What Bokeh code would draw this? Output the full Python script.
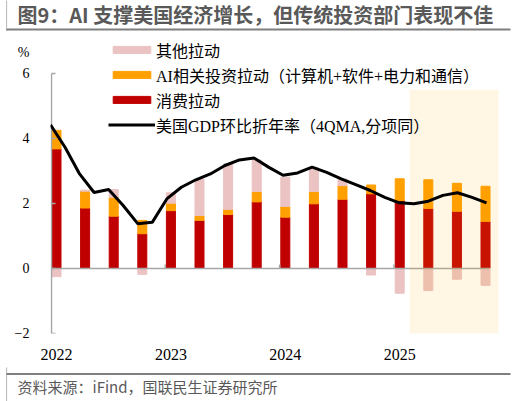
import numpy as np
from bokeh.plotting import figure
from bokeh.layouts import column
from bokeh.models import (ColumnDataSource, Range1d, FixedTicker, Legend, LegendItem, Label)
from bokeh.embed import file_html
from bokeh.resources import INLINE

# quarterly contributions, pct points
quarters = ["2022Q1", "2022Q2", "2022Q3", "2022Q4",
            "2023Q1", "2023Q2", "2023Q3", "2023Q4",
            "2024Q1", "2024Q2", "2024Q3", "2024Q4",
            "2025Q1", "2025Q2", "2025Q3", "2025Q4"]
consumption = [3.68, 1.86, 1.61, 1.07, 1.78, 1.48, 1.66, 2.05,
               1.58, 1.99, 2.13, 2.30, 2.09, 1.85, 1.76, 1.45]
ai_invest = [0.57, 0.52, 0.58, 0.41, 0.23, 0.15, 0.16, 0.32,
             0.33, 0.38, 0.42, 0.27, 0.67, 0.88, 0.86, 1.08]
other = [-0.25, 0.03, 0.24, -0.18, 0.32, 1.12, 1.40, 0.97,
         0.90, 0.73, 0.20, -0.20, -0.76, -0.68, -0.33, -0.52]
# GDP 4QMA curve, every half quarter
gdp = [4.42, 3.73, 2.91, 2.34, 2.43, 1.94, 1.38, 1.42, 2.14, 2.50, 2.73,
       2.91, 3.17, 3.34, 3.40, 3.12, 2.87, 2.94, 3.12, 2.96, 2.76,
       2.58, 2.40, 2.19, 2.02, 1.99, 2.07, 2.25, 2.33, 2.19, 2.02]
years = ["2022", "2023", "2024", "2025"]
y_ticks = [-2, 0, 2, 4, 6]

SERIF = "Liberation Serif, Noto Sans CJK SC"
SANS = "Noto Sans CJK SC"
RED, ORANGE, PINK = "#C00000", "#FF9F00", "#EBC3C3"
GREY = "#A6A6A6"
RULE = "#7F7F7F"


def strip(height, rule_y):
    # full-width strip for the title / source lines, coords in strip px
    f = figure(width=516, height=height, output_backend="svg", toolbar_location=None,
               x_range=Range1d(0, 516), y_range=Range1d(0, height),
               x_axis_type=None, y_axis_type=None, min_border=0, title=None)
    f.outline_line_color = None
    f.frame_align = False
    f.segment(x0=6, x1=510, y0=rule_y, y1=rule_y, line_color=RULE, line_width=2)
    # horizontal rule drawn as an empty label's background box
    f.add_layout(Label(x=6, y=rule_y, text=" ", text_font_size="2px",
                       text_baseline="middle", text_color=RULE,
                       background_fill_color=RULE, padding=(0, 252)))
    return f


top = strip(31, 2)
top.add_layout(Label(x=17, y=17, text="图9：AI 支撑美国经济增长，但传统投资部门表现不佳",
                     text_baseline="middle", text_font=SANS, text_font_size="20px",
                     text_font_style="bold", text_color="#595959"))

x = np.arange(len(quarters))
cons = np.array(consumption)
ai = np.array(ai_invest)
oth = np.array(other)
up = oth >= 0
src = ColumnDataSource(dict(
    x=x, cons=cons, ai_top=cons + ai,
    oth_bottom=np.where(up, cons + ai, 0),
    oth_top=np.where(up, cons + ai + oth, oth)))

p = figure(width=516, height=336, title=None, output_backend="svg", toolbar_location=None,
           x_range=Range1d(-0.21, 15.524), y_range=Range1d(-2, 7.108),
           min_border_left=50, min_border_right=16, min_border_top=6, min_border_bottom=34)
p.frame_align = False
p.extra_x_ranges = {"gdp": Range1d(0, 15.48)}
p.outline_line_color = None
p.xgrid.visible = False
p.ygrid.visible = False

w = 0.315
r_cons = p.vbar(x="x", bottom=0, top="cons", width=w, source=src, color=RED)
r_ai = p.vbar(x="x", bottom="cons", top="ai_top", width=w, source=src, color=ORANGE)
r_oth = p.vbar(x="x", bottom="oth_bottom", top="oth_top", width=w, source=src, color=PINK)

# axis lines and inward ticks
ax = -0.175
p.segment(x0=ax, y0=y_ticks[0], x1=ax, y1=y_ticks[-1], color=GREY, line_width=1.5)
p.segment(x0=ax, y0=y_ticks, x1=ax + 0.14, y1=y_ticks, color=GREY, line_width=1.5)
p.segment(x0=ax, y0=0, x1=15.14, y1=0, color=GREY, line_width=1.5)
year_ticks = [i for i, q in enumerate(quarters) if q.endswith("Q1")]
p.segment(x0=[t - 0.2 for t in year_ticks[1:]], y0=0,
          x1=[t - 0.2 for t in year_ticks[1:]], y1=0.12, color=GREY, line_width=1.5)

# forecast shading
p.quad(left=12.35, right=15.45, bottom=-2, top=5.5, fill_color="#FFAA00",
       fill_alpha=0.11, line_color=None)

r_gdp = p.line(x=np.arange(len(gdp)) / 2, y=gdp, x_range_name="gdp",
               color="black", line_width=3)

# y labels only; the unit sits on an extra tick above 6
pct_at = 6.65
p.yaxis.ticker = FixedTicker(ticks=y_ticks + [pct_at])
p.yaxis.major_label_overrides = {pct_at: "%"}
p.yaxis.axis_line_color = None
p.yaxis.major_tick_line_color = None
p.yaxis.minor_tick_line_color = None
p.yaxis.major_label_text_font = "Liberation Serif"
p.yaxis.major_label_text_font_size = "14px"
p.yaxis.major_label_text_color = "black"
p.yaxis.major_label_standoff = 15

p.xaxis.ticker = FixedTicker(ticks=year_ticks)
p.xaxis.major_label_overrides = dict(zip(year_ticks, years))
p.xaxis.axis_line_color = None
p.xaxis.major_tick_line_color = None
p.xaxis.minor_tick_line_color = None
p.xaxis.major_label_text_font = "Liberation Serif"
p.xaxis.major_label_text_font_size = "16px"
p.xaxis.major_label_text_color = "black"
p.xaxis.major_label_standoff = 9

legend = Legend(items=[
    LegendItem(label="其他拉动", renderers=[r_oth]),
    LegendItem(label="AI相关投资拉动（计算机+软件+电力和通信）", renderers=[r_ai]),
    LegendItem(label="消费拉动", renderers=[r_cons]),
    LegendItem(label="美国GDP环比折年率（4QMA,分项同）", renderers=[r_gdp]),
], location=(58, 196))
legend.glyph_width = 47
legend.glyph_height = 9
legend.label_height = 25
legend.spacing = 0
legend.padding = 0
legend.margin = 0
legend.label_standoff = 1
legend.border_line_color = None
legend.background_fill_alpha = 0
legend.label_text_font = SERIF
legend.label_text_font_size = "16px"
legend.label_text_color = "black"
p.add_layout(legend)

bottom = strip(34, 27.5)
bottom.add_layout(Label(x=17, y=15, text="资料来源：iFind，国联民生证券研究所",
                        text_baseline="middle", text_font=SANS, text_font_size="15px",
                        text_color="#595959"))

page = column(top, p, bottom, spacing=0)
open("out.html", "w").write(file_html(page, INLINE))
